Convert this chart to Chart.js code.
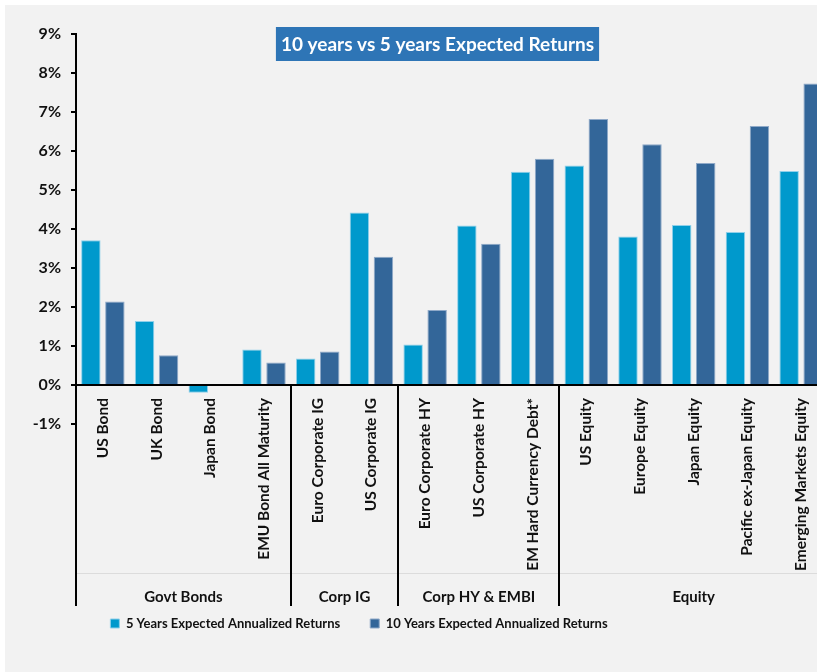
<!DOCTYPE html>
<html>
<head>
<meta charset="utf-8">
<script src="https://cdn.jsdelivr.net/npm/chart.js@4.4.1/dist/chart.umd.min.js"></script>
<style>
    body { margin: 0; background: #ffffff; overflow: hidden; }
    #wrap { position: absolute; left: 5px; top: 5px; width: 812px; height: 667px; overflow: hidden; background: #f2f2f2; }
</style>
</head>
<body>
<div id="wrap"><canvas id="chartRetornos" width="840" height="667"></canvas></div>
<script>
// Dados do gráfico
const categorias = ['US Bond', 'UK Bond', 'Japan Bond', 'EMU Bond All Maturity', 'Euro Corporate IG', 'US Corporate IG',
    'Euro Corporate HY', 'US Corporate HY', 'EM Hard Currency Debt*', 'US Equity', 'Europe Equity', 'Japan Equity',
    'Pacific ex-Japan Equity', 'Emerging Markets Equity'];
const retorno5Anos = [3.71, 1.64, -0.2, 0.91, 0.68, 4.42, 1.04, 4.09, 5.47, 5.63, 3.81, 4.10, 3.92, 5.49];
const retorno10Anos = [2.14, 0.76, 0, 0.58, 0.86, 3.29, 1.92, 3.62, 5.80, 6.82, 6.17, 5.69, 6.64, 7.73];
const grupos = ['Govt Bonds', 'Corp IG', 'Corp HY & EMBI', 'Equity'];
const tamanhoGrupos = [4, 2, 3, 5];
const tituloTexto = '10 years vs 5 years Expected Returns';

// limites e centros dos grupos (em unidades de categoria)
const limitesGrupos = [0];
tamanhoGrupos.forEach(n => limitesGrupos.push(limitesGrupos[limitesGrupos.length - 1] + n));
const centrosGrupos = tamanhoGrupos.map((n, i) => limitesGrupos[i] + n / 2);

const FONTE = 'Lato, "Open Sans", sans-serif';
const COR_TEXTO = '#111111';

// Caixa do título e linhas separadoras dos grupos
const extrasPlugin = {
    id: 'extras',
    afterLayout(chart) {
        // posiciona a legenda como no original (mais à esquerda e logo abaixo dos grupos)
        const lg = chart.legend;
        lg.left = 0;
        lg.right = 708;
        lg.top = 582;
        lg.bottom = lg.top + lg.height;
    },
    afterDraw(chart) {
        const ctx = chart.ctx;
        const grp = chart.scales.grp;
        const y0 = chart.scales.y.getPixelForValue(0);
        const yFim = 601;
        ctx.save();
        // linha clara entre rótulos e grupos
        ctx.strokeStyle = '#dcdcdc';
        ctx.lineWidth = 1;
        ctx.beginPath();
        ctx.moveTo(chart.chartArea.left, 568.5);
        ctx.lineTo(chart.chartArea.right, 568.5);
        ctx.stroke();
        ctx.strokeStyle = '#000000';
        ctx.lineWidth = 2;
        limitesGrupos.slice(0, -1).forEach(b => {
            const px = Math.round(grp.getPixelForValue(b));
            ctx.beginPath();
            ctx.moveTo(px, b === 0 ? chart.chartArea.bottom : y0);
            ctx.lineTo(px, yFim);
            ctx.stroke();
        });
        // título
        ctx.font = 'bold 19px ' + FONTE;
        const larg = ctx.measureText(tituloTexto).width;
        const cx = 432.5, cy = 39;
        ctx.fillStyle = '#2e75b6';
        ctx.fillRect(cx - larg / 2 - 5, cy - 17, larg + 10, 34);
        ctx.fillStyle = '#ffffff';
        ctx.textAlign = 'center';
        ctx.textBaseline = 'middle';
        ctx.fillText(tituloTexto, cx, cy + 1);
        ctx.restore();
    }
};

const ctxRetornos = document.getElementById('chartRetornos').getContext('2d');
new Chart(ctxRetornos, {
    type: 'bar',
    data: {
        labels: categorias,
        datasets: [
            {
                label: '5 Years Expected Annualized Returns',
                data: retorno5Anos,
                backgroundColor: '#0099cc',
                borderColor: '#8fd0ea',
                borderWidth: 1,
                categoryPercentage: 0.894,
                barPercentage: 0.81,
            },
            {
                label: '10 Years Expected Annualized Returns',
                data: retorno10Anos,
                backgroundColor: '#336699',
                borderColor: '#8fa9c8',
                borderWidth: 1,
                categoryPercentage: 0.894,
                barPercentage: 0.81,
            },
        ],
    },
    options: {
        responsive: false,
        animation: false,
        devicePixelRatio: 1,
        layout: { padding: { left: 0, right: 17, top: 29, bottom: 13 } },
        plugins: {
            tooltip: { enabled: false },
            legend: {
                position: 'bottom',
                align: 'center',
                labels: {
                    boxWidth: 9,
                    boxHeight: 9,
                    padding: 30,
                    color: COR_TEXTO,
                    font: { family: FONTE, size: 13, weight: 'bold' },
                },
            },
        },
        scales: {
            x: {
                position: { y: 0 },
                grid: { drawOnChartArea: false, drawTicks: false },
                border: { display: true, color: '#000000', width: 2 },
                ticks: {
                    minRotation: 90,
                    maxRotation: 90,
                    autoSkip: false,
                    padding: 13,
                    color: COR_TEXTO,
                    font: { family: FONTE, size: 15.5, weight: 'bold' },
                },
            },
            // eixo auxiliar só para os nomes dos grupos
            grp: {
                type: 'linear',
                position: 'bottom',
                offset: false,
                min: 0,
                max: categorias.length,
                grid: { display: false, drawTicks: false, offset: false },
                border: { display: false },
                afterBuildTicks: scale => {
                    scale.ticks = centrosGrupos.map(v => ({ value: v }));
                },
                afterFit: scale => {
                    scale.height = 182;
                    // o padding grande dos rótulos não deve encolher a área do gráfico
                    scale.paddingLeft = 0;
                    scale.paddingRight = 0;
                },
                ticks: {
                    autoSkip: false,
                    maxRotation: 0,
                    padding: 164,
                    color: COR_TEXTO,
                    font: { family: FONTE, size: 15, weight: 'bold' },
                    callback: (v, i) => grupos[i],
                },
            },
            y: {
                min: -1,
                max: 9,
                afterFit: scale => {
                    scale.width = 71;
                },
                ticks: {
                    stepSize: 1,
                    padding: 10,
                    color: COR_TEXTO,
                    font: { family: FONTE, size: 16, weight: 'bold' },
                    callback: v => v + '%',
                },
                grid: { drawOnChartArea: false, tickLength: 5, color: '#000000', lineWidth: 2 },
                border: { display: true, color: '#000000', width: 2 },
            },
        },
    },
    plugins: [extrasPlugin],
});
</script>
</body>
</html>
